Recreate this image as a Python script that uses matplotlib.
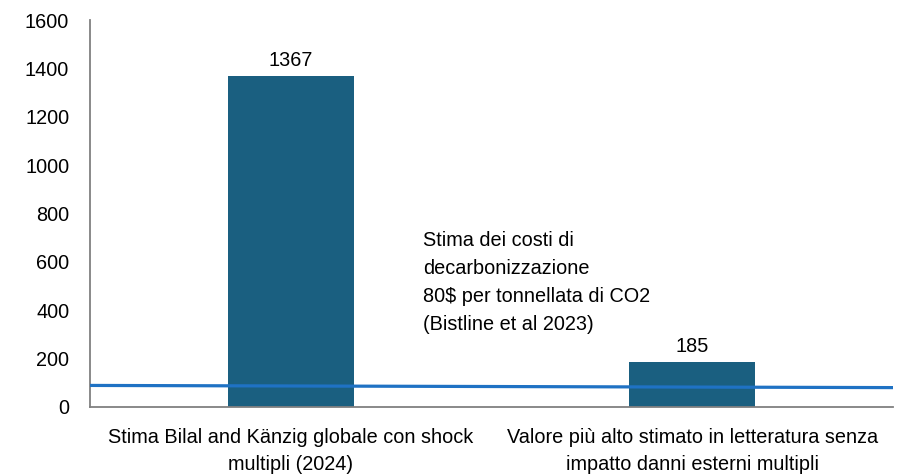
import matplotlib.pyplot as plt

# data
categories = ["Stima Bilal and Känzig globale con shock\nmultipli (2024)",
              "Valore più alto stimato in letteratura senza\nimpatto danni esterni multipli"]
values = [1367, 185]
cost_line = [88, 79]   # decarbonisation cost line, left and right ends
note = "Stima dei costi di\ndecarbonizzazione\n80$ per tonnellata di CO2\n(Bistline et al 2023)"

plt.rcParams['font.family'] = ['Liberation Sans', 'DejaVu Sans']
plt.rcParams['font.size'] = 14.3

fig = plt.figure(figsize=(8.98, 4.75), dpi=100)
ax = fig.add_axes([90 / 898, 1 - 406.7 / 475, 803 / 898, (406.7 - 20) / 475])

pos = [0.5, 1.5]
bars = ax.bar(pos, values, width=0.314, color="#1a5f80", zorder=2)
for bar in bars:
    h = bar.get_height()
    ax.text(bar.get_x() + bar.get_width() / 2, h + 25, f"{h:.0f}",
            ha='center', va='bottom')

ax.plot([0, 2], cost_line, color="#1f72c4", lw=2.3, zorder=3)
ax.text(0.83, 725, note, ha='left', va='top', linespacing=1.6)

ax.set_xlim(0, 2)
ax.set_ylim(0, 1600)
ax.set_yticks(range(0, 1601, 200))
ax.set_xticks(pos)
ax.set_xticklabels(categories, linespacing=1.55)
ax.tick_params(axis='both', length=0)
ax.tick_params(axis='x', pad=15)
ax.tick_params(axis='y', pad=15)

for side in ['top', 'right']:
    ax.spines[side].set_visible(False)
for side in ['left', 'bottom']:
    ax.spines[side].set_color("#808080")
    ax.spines[side].set_linewidth(1.3)

fig.savefig("out.png", dpi=100)
